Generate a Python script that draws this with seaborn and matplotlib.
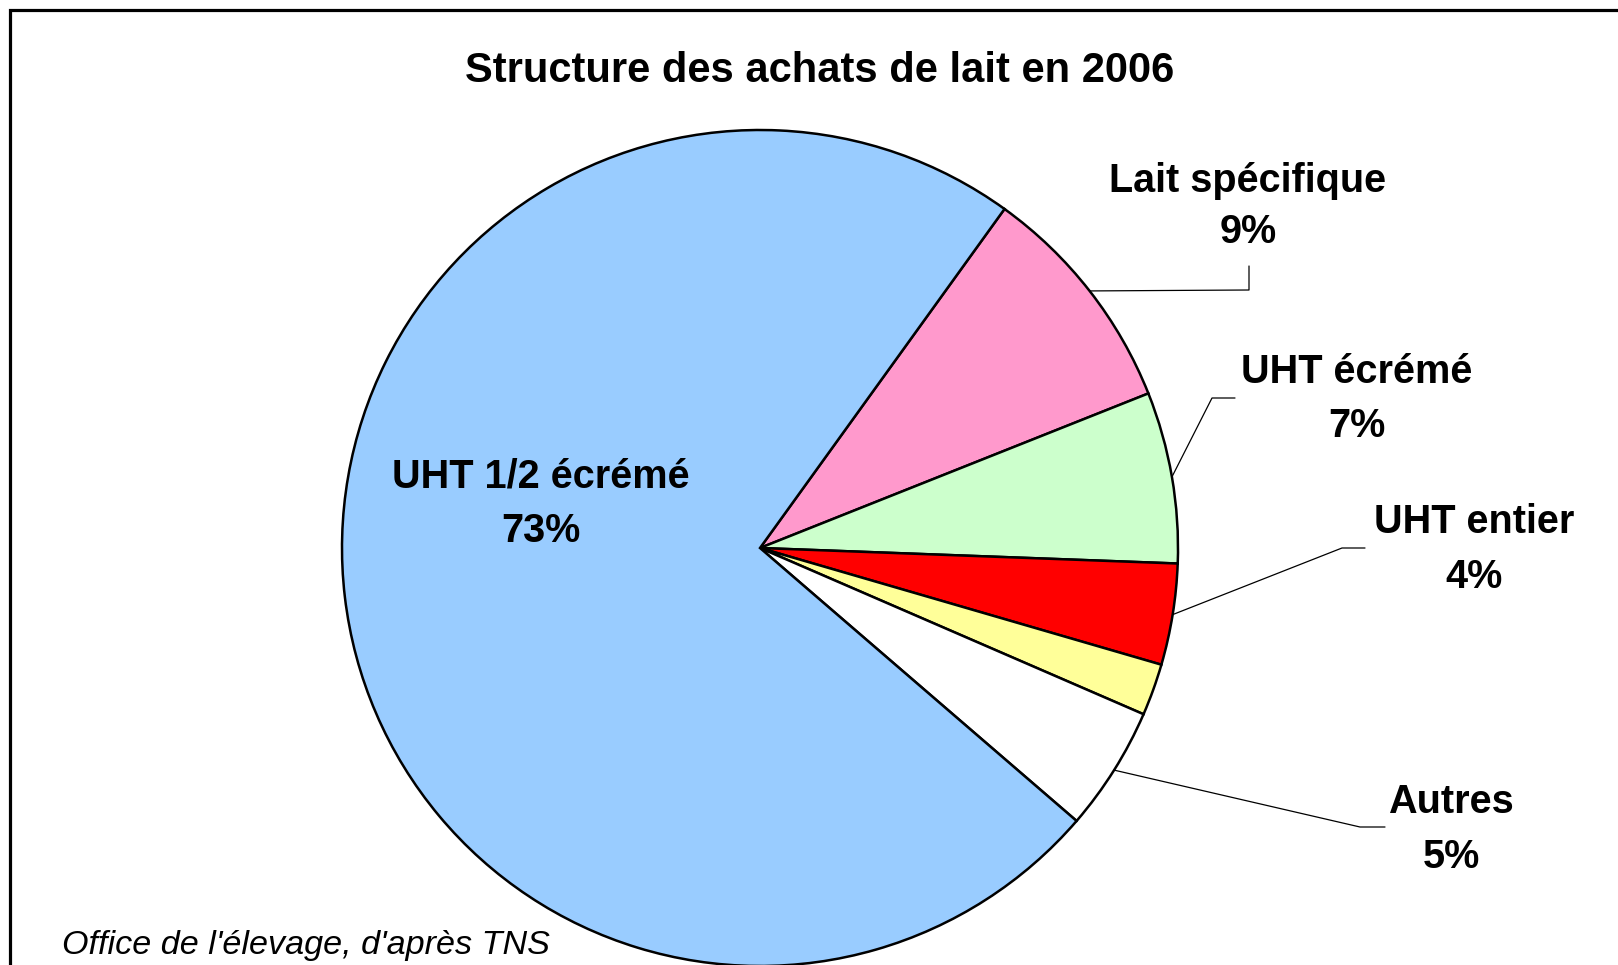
#!/usr/bin/env python3
"""
Structure des achats de lait en 2006 - pie chart
"""

import numpy as np
import matplotlib
matplotlib.use('Agg')
import matplotlib.pyplot as plt
from matplotlib.patches import Rectangle
import seaborn as sns

# Data (shares in %, clockwise from the top right)
categories = ['Lait spécifique', 'UHT écrémé', 'UHT entier', 'Lait cru', 'Autres', 'UHT 1/2 écrémé']
shares = [9.0, 6.6, 3.9, 2.0, 4.8, 73.4]
show_label = [True, True, True, False, True, True]
colors = ['#FF99CC', '#CCFFCC', '#FF0000', '#FFFF99', '#FFFFFF', '#99CCFF']

title = 'Structure des achats de lait en 2006'
source = "Office de l'élevage, d'après TNS"

sns.set_style('white')
plt.rcParams['font.family'] = ['Liberation Sans', 'DejaVu Sans']
plt.rcParams['text.color'] = 'black'

W, H = 1618, 965
fig = plt.figure(figsize=(W / 100, H / 100), dpi=100)
ax = fig.add_axes([0, 0, 1, 1])

# pixel helpers (y measured from the top of the image)
def py(y):
    return H - y

cx, cy, r = 760, py(548), 418
wedges, _ = ax.pie(shares, colors=colors, startangle=54.2, counterclock=False,
                   radius=r, center=(cx, cy),
                   wedgeprops=dict(edgecolor='black', linewidth=1.8))
ax.set_xlim(0, W)
ax.set_ylim(0, H)
ax.set_aspect('equal')
ax.axis('off')

# label layout: text center x, baseline of name, baseline of percent, leader elbow/end
layout = {
    'Lait spécifique': dict(x=1248, y1=192, y2=243, leader=[(1249, 290), (1249, 266)]),
    'UHT écrémé': dict(x=1357, y1=383, y2=437, leader=[(1212, 398), (1235, 398)]),
    'UHT entier': dict(x=1474, y1=533, y2=588, leader=[(1342, 548), (1365, 548)]),
    'Autres': dict(x=1451, y1=813, y2=868, leader=[(1360, 827), (1385, 827)]),
    'UHT 1/2 écrémé': dict(x=541, y1=487, y2=542, leader=None),
}

for w, name, val, show in zip(wedges, categories, shares, show_label):
    if not show:
        continue
    lay = layout[name]
    ax.text(lay['x'], py(lay['y1']), name, ha='center', va='baseline',
            fontsize=28.5, fontweight='bold', color='black')
    ax.text(lay['x'], py(lay['y2']), f'{val:.0f}%', ha='center', va='baseline',
            fontsize=28.5, fontweight='bold', color='black')
    if lay['leader']:
        mid = np.deg2rad((w.theta1 + w.theta2) / 2)
        xs = [cx + r * np.cos(mid)] + [p[0] for p in lay['leader']]
        ys = [cy + r * np.sin(mid)] + [py(p[1]) for p in lay['leader']]
        ax.plot(xs, ys, color='black', linewidth=0.9)

ax.text(820, py(82), title, ha='center', va='baseline', fontsize=30,
        fontweight='bold', color='black')
ax.text(62, py(954), source, ha='left', va='baseline', fontsize=24.6,
        fontstyle='italic', color='black')

# chart area border (runs off the right and bottom edges)
ax.add_patch(Rectangle((10.5, py(H + 20)), W + 20, H + 20 - 9.5, fill=False,
                       edgecolor='black', linewidth=2.3, clip_on=False))

fig.savefig('out.png', dpi=100)
plt.close(fig)
